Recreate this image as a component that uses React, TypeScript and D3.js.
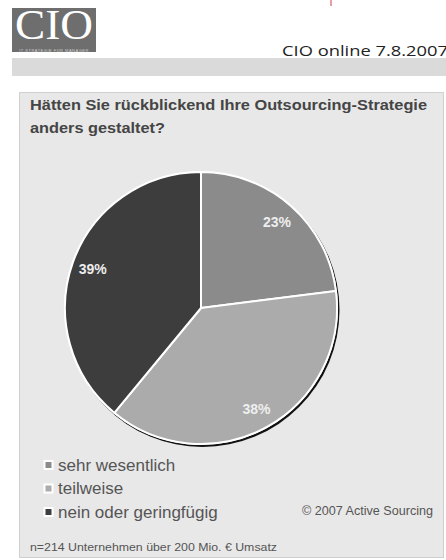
import React from "react";
import * as d3 from "d3";

const categories = ["sehr wesentlich", "teilweise", "nein oder geringfügig"];
const values = [23, 38, 39];
const labels = ["23%", "38%", "39%"];
const colors = ["#8b8b8b", "#ababab", "#3d3d3d"];

const title = ["Hätten Sie rückblickend Ihre Outsourcing-Strategie", "anders gestaltet?"];
const footnote = "n=214 Unternehmen über 200 Mio. € Umsatz";
const copyright = "© 2007 Active Sourcing";

const W = 446;
const H = 560;
const cx = 201;
const cy = 308;
const radius = 136;
const labelRadius = 115;

const App: React.FC = () => {
  const pie = d3
    .pie<number>()
    .sort(null)
    .startAngle(0)
    .endAngle(2 * Math.PI);
  const arcs = pie(values);

  const arc = d3.arc<d3.PieArcDatum<number>>().innerRadius(0).outerRadius(radius);
  const labelArc = d3
    .arc<d3.PieArcDatum<number>>()
    .innerRadius(labelRadius)
    .outerRadius(labelRadius);

  // legend rows
  const legendY = d3.scalePoint<string>().domain(categories).range([465, 512]);

  return (
    <svg
      width={W}
      height={H}
      style={{ position: "absolute", left: 0, top: 0, background: "#fff" }}
    >
      {/* header */}
      <rect x={12} y={8} width={84} height={44} fill="#6e6e6e" />
      <text
        x={54}
        y={39}
        textAnchor="middle"
        fontFamily="Liberation Serif"
        fontSize={43}
        fill="#fff"
        textLength={78}
        lengthAdjust="spacingAndGlyphs"
      >
        CIO
      </text>
      <text
        x={54}
        y={51.5}
        textAnchor="middle"
        fontFamily="Liberation Sans"
        fontSize={4}
        fill="#cfcfcf"
        letterSpacing={0.5}
      >
        IT-STRATEGIE FÜR MANAGER
      </text>
      <line x1={331} y1={0} x2={331} y2={6} stroke="#d23a4a" strokeWidth={1} />
      <text
        x={282}
        y={56}
        fontFamily="Open Sans"
        fontSize={14}
        fill="#222"
        textLength={166}
        lengthAdjust="spacingAndGlyphs"
      >
        CIO online 7.8.2007
      </text>
      <rect x={12} y={58} width={W - 12} height={18} fill="#dadada" />

      {/* panel */}
      <rect x={19.5} y={92.5} width={424} height={465} fill="#e8e8e8" stroke="#d0d0d0" />
      {title.map((t, i) => (
        <text
          key={i}
          x={30}
          y={110 + i * 23}
          fontFamily="Liberation Sans"
          fontWeight="bold"
          fontSize={15}
          fill="#454545"
          textLength={i === 0 ? 397 : 135}
          lengthAdjust="spacingAndGlyphs"
        >
          {t}
        </text>
      ))}

      {/* pie */}
      <circle cx={cx + 1.5} cy={cy + 2} r={radius + 1} fill="#111" />
      <circle cx={cx} cy={cy} r={radius + 1} fill="#fff" />
      <g transform={`translate(${cx},${cy})`}>
        {arcs.map((a, i) => (
          <path
            key={i}
            d={arc(a) ?? ""}
            fill={colors[i]}
            stroke="#fff"
            strokeWidth={2}
            strokeLinejoin="round"
          />
        ))}
        {arcs.map((a, i) => {
          const [x, y] = labelArc.centroid(a);
          return (
            <text
              key={i}
              x={x}
              y={y}
              dy="0.35em"
              textAnchor="middle"
              fontFamily="Liberation Sans"
              fontWeight="bold"
              fontSize={14}
              fill="#eeeeee"
            >
              {labels[i]}
            </text>
          );
        })}
      </g>

      {/* legend */}
      {categories.map((c, i) => {
        const y = legendY(c) ?? 0;
        return (
          <g key={c}>
            <rect x={43.5} y={y - 5} width={10} height={10} fill="#fff" />
            <rect x={45.5} y={y - 3} width={6} height={6} fill={colors[i]} />
            <text
              x={58}
              y={y}
              dy="0.35em"
              fontFamily="Liberation Sans"
              fontSize={17}
              fill="#555"
            >
              {c}
            </text>
          </g>
        );
      })}

      <text
        x={302}
        y={515}
        fontFamily="Liberation Sans"
        fontSize={12}
        fill="#555"
        textLength={131}
        lengthAdjust="spacingAndGlyphs"
      >
        {copyright}
      </text>
      <text
        x={30}
        y={551}
        fontFamily="Liberation Sans"
        fontSize={11}
        fill="#555"
        textLength={247}
        lengthAdjust="spacingAndGlyphs"
      >
        {footnote}
      </text>
    </svg>
  );
};

export default App;
